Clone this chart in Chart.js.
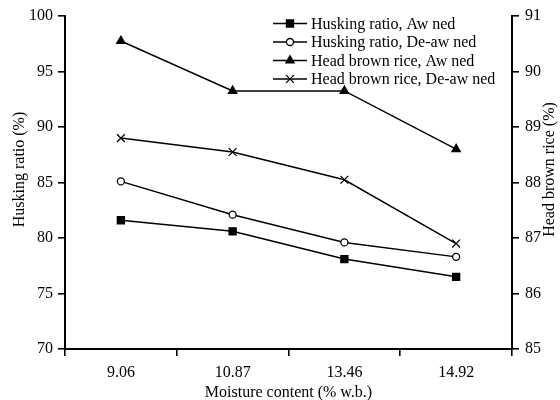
<!DOCTYPE html>
<html>
<head>
<meta charset="utf-8">
<script src="https://cdn.jsdelivr.net/npm/chart.js@4/dist/chart.umd.min.js"></script>
<style>
  html, body { margin: 0; padding: 0; background: #fff; }
  #wrap { width: 560px; height: 400px; }
</style>
</head>
<body>
<div id="wrap"><canvas id="c" width="560" height="400"></canvas></div>
<script>
// Moisture content categories (% w.b.)
const moisture = ['9.06', '10.87', '13.46', '14.92'];

// Husking ratio (%), left axis
const huskingAwned   = [81.6, 80.6, 78.1, 76.5];
const huskingDeawned = [85.1, 82.1, 79.6, 78.3];

// Head brown rice (%), right axis
const headAwned   = [90.55, 89.65, 89.65, 88.6];
const headDeawned = [88.8, 88.55, 88.05, 86.9];

const seriesLabels = [
  'Husking ratio, Aw ned',
  'Husking ratio, De-aw ned',
  'Head brown rice, Aw ned',
  'Head brown rice, De-aw ned'
];

const FONT = 'Liberation Serif';
Chart.defaults.font.family = FONT;
Chart.defaults.font.size = 16;
Chart.defaults.color = '#000';

function line(label, data, axis, style, radius, fill) {
  return {
    label, data, yAxisID: axis,
    borderColor: '#000', borderWidth: 1.5,
    pointStyle: style, pointRadius: radius, pointHoverRadius: radius,
    pointBackgroundColor: fill, pointBorderColor: '#000', pointBorderWidth: 1.3,
    tension: 0, fill: false
  };
}

// Legend drawn in the upper right of the plot: a short line with the marker in its middle
const legendBox = {
  id: 'legendBox',
  afterDraw(chart) {
    const ctx = chart.ctx;
    const x0 = 273, x1 = 307, tx = 311, y0 = 23.5, step = 18.5;
    ctx.save();
    chart.data.datasets.forEach((ds, i) => {
      const y = y0 + i * step;
      ctx.strokeStyle = '#000';
      ctx.lineWidth = 1.5;
      ctx.beginPath(); ctx.moveTo(x0, y); ctx.lineTo(x1, y); ctx.stroke();
      ctx.fillStyle = ds.pointBackgroundColor;
      ctx.strokeStyle = '#000';
      ctx.lineWidth = ds.pointBorderWidth;
      Chart.helpers.drawPoint(ctx, {
        pointStyle: ds.pointStyle, rotation: 0,
        radius: ds.pointRadius, borderWidth: ds.pointBorderWidth
      }, (x0 + x1) / 2, y);
      ctx.fillStyle = '#000';
      ctx.font = '16px "' + FONT + '"';
      ctx.textAlign = 'left';
      ctx.textBaseline = 'middle';
      ctx.fillText(ds.label, tx, y + 1);
    });
    ctx.restore();
  }
};

// Rotated titles for the two value axes
const sideTitles = {
  id: 'sideTitles',
  afterDraw(chart) {
    const ctx = chart.ctx;
    const cy = (chart.chartArea.top + chart.chartArea.bottom) / 2 - 13;
    ctx.save();
    ctx.fillStyle = '#000';
    ctx.font = '16px "' + FONT + '"';
    ctx.textAlign = 'center';
    ctx.textBaseline = 'middle';
    ctx.save();
    ctx.translate(20, cy);
    ctx.rotate(-Math.PI / 2);
    ctx.fillText('Husking ratio (%)', 0, 0);
    ctx.restore();
    ctx.save();
    ctx.translate(550, cy);
    ctx.rotate(-Math.PI / 2);
    ctx.fillText('Head brown rice (%)', 0, 0);
    ctx.restore();
    ctx.restore();
  }
};

const axisLine = { display: true, color: '#000', width: 2 };
const tickMarks = { drawOnChartArea: false, drawTicks: true, tickLength: 7, color: '#000', lineWidth: 1.6 };

new Chart(document.getElementById('c'), {
  type: 'line',
  data: {
    labels: moisture,
    datasets: [
      line(seriesLabels[0], huskingAwned, 'y', 'rect', 5, '#000'),
      line(seriesLabels[1], huskingDeawned, 'y', 'circle', 3.5, '#fff'),
      line(seriesLabels[2], headAwned, 'y1', 'triangle', 4.8, '#000'),
      line(seriesLabels[3], headDeawned, 'y1', 'crossRot', 5.5, '#000')
    ]
  },
  options: {
    responsive: false,
    animation: false,
    layout: { padding: { top: 16, left: 0, right: 0, bottom: 0 } },
    plugins: { legend: { display: false }, tooltip: { enabled: false } },
    scales: {
      x: {
        type: 'category',
        offset: true,
        border: axisLine,
        grid: Object.assign({ offset: true }, tickMarks),
        ticks: { padding: 7, maxRotation: 0, font: { size: 16 } },
        title: { display: true, text: 'Moisture content (% w.b.)', padding: { top: 0, bottom: -2 }, font: { size: 16 } },
        afterFit: s => { s.height = 51; }
      },
      y: {
        position: 'left',
        min: 70, max: 100,
        border: axisLine,
        grid: tickMarks,
        ticks: { stepSize: 5, padding: 5, font: { size: 16 } },
        afterFit: s => { s.width = 65; }
      },
      y1: {
        position: 'right',
        min: 85, max: 91,
        border: axisLine,
        grid: tickMarks,
        ticks: { stepSize: 1, padding: 6, font: { size: 16 } },
        afterFit: s => { s.width = 48; }
      }
    }
  },
  plugins: [legendBox, sideTitles]
});
</script>
</body>
</html>
